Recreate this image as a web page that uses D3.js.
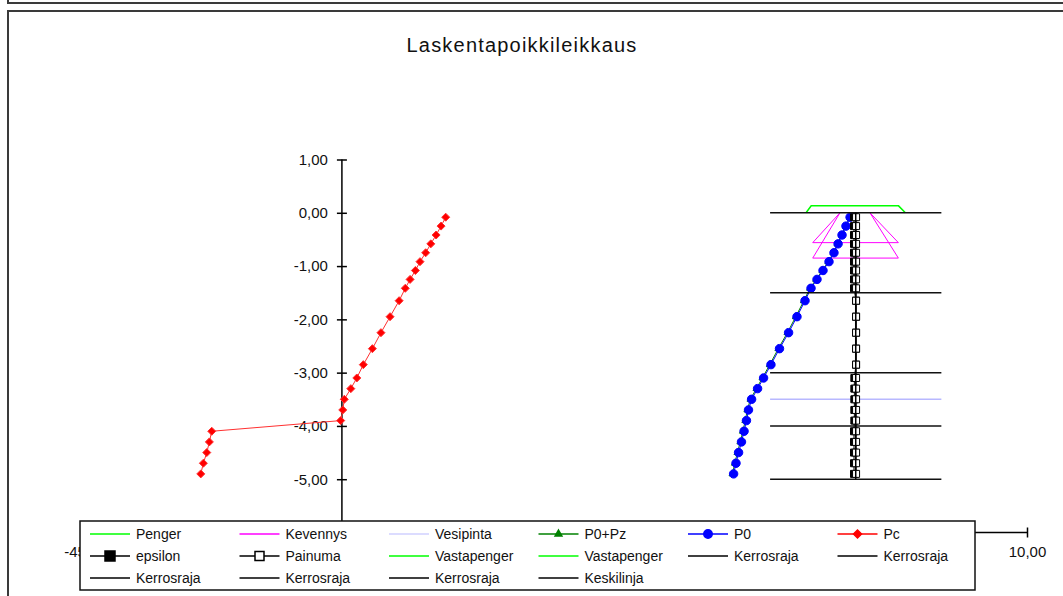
<!DOCTYPE html>
<html><head><meta charset="utf-8">
<script src="https://cdn.jsdelivr.net/npm/d3@7"></script>
<style>body{margin:0;background:#fff}svg{display:block;font-family:Arial,"Liberation Sans",sans-serif}</style>
</head><body><svg id="c" width="1063" height="596"></svg>
<script>
// ---- data ----
const depths = [-0.083,-0.25,-0.417,-0.583,-0.75,-0.917,-1.083,-1.25,-1.417,
  -1.65,-1.95,-2.25,-2.55,-2.85,-3.1,-3.3,-3.5,-3.7,-3.9,-4.1,-4.3,-4.5,-4.7,-4.9];
const p0Values = [-0.33,-0.57,-0.80,-1.03,-1.27,-1.56,-1.91,-2.26,-2.61,
  -2.96,-3.43,-3.92,-4.45,-4.95,-5.38,-5.73,-6.08,-6.26,-6.38,-6.52,-6.67,-6.84,-6.99,-7.13];
const p0pzValues = [-0.34,-0.59,-0.82,-1.06,-1.30,-1.60,-1.95,-2.31,-2.67,
  -3.03,-3.50,-3.99,-4.52,-5.02,-5.45,-5.80,-6.15,-6.33,-6.45,-6.59,-6.74,-6.91,-7.06,-7.20];
const pcValues = [-23.94,-24.21,-24.50,-24.81,-25.11,-25.44,-25.71,-26.02,-26.30,
  -26.66,-27.19,-27.72,-28.22,-28.75,-29.13,-29.48,-29.86,-29.95,-30.07,
  -37.60,-37.74,-37.89,-38.09,-38.24];
const epsilonValues = [-0.10,-0.10,-0.10,-0.10,-0.10,-0.10,-0.10,-0.10,-0.10,
  0.02,0.02,0.02,0.02,0.02,-0.08,-0.08,-0.08,-0.08,-0.08,-0.10,-0.10,-0.10,-0.10,-0.10];
const painumaValues = [0.02,0.02,0.02,0.02,0.02,0.02,0.02,0.02,0.02,
  0.02,0.02,0.02,0.02,0.02,0.02,0.02,0.02,0.02,0.02,0.02,0.02,0.02,0.02,0.02];
const pengerX = [-2.9,-2.6,2.5,2.9];
const pengerY = [0,0.13,0.13,0];
const kevennysX = [-0.92,-2.51,2.49,0.83];
const kevennysY1 = [0,-0.56,-0.56,0];
const kevennysY2 = [0,-0.85,-0.85,0];
const vesipintaX = [-5,5];
const vesipintaLevel = -3.5;
const kerrosrajaX = [-5,5];
const kerrosrajaLevels = [0,-1.5,-3,-4,-5];
const keskilinjaX = [0,0];
const keskilinjaY = [0,-5];
const vastapenger1 = [];
const vastapenger2 = [];
const yTicks = [1,0,-1,-2,-3,-4,-5];
const xTicks = [-45,-40,-35,-30,-25,-20,-15,-10,-5,0,5,10];
const xTickLabelsShown = [-45,10]; // the others sit under the legend box
const legendNames = ["Penger","Kevennys","Vesipinta","P0+Pz","P0","Pc",
  "epsilon","Painuma","Vastapenger","Vastapenger","Kerrosraja","Kerrosraja",
  "Kerrosraja","Kerrosraja","Kerrosraja","Keskilinja"];
const title = "Laskentapoikkileikkaus";

// ---- chart ----
const svg = d3.select("#c");
const x = d3.scaleLinear().domain([-45,10]).range([85,1027]);
const y = d3.scaleLinear().domain([-6,1]).range([532.5,159.5]);
const fmt = v => v.toFixed(2).replace(".",",");
const line = d3.line().x(d=>x(d[0])).y(d=>y(d[1]));
const zip = (a,b) => a.map((v,i)=>[v,b[i]]);

// frame
svg.append("path").attr("d","M8,-5V3H1070").attr("fill","none").attr("stroke","#3a3a3a").attr("stroke-width",2);
svg.append("path").attr("d","M8,600V11H1070").attr("fill","none").attr("stroke","#3a3a3a").attr("stroke-width",2);

svg.append("text").attr("x",522).attr("y",52).attr("text-anchor","middle")
  .attr("font-size",20).attr("letter-spacing",1.2).attr("fill","#111").text(title);

// axes
const ya = svg.append("g").attr("transform",`translate(${x(-30)},0)`)
  .call(d3.axisLeft(y).tickValues(yTicks).tickSizeInner(5).tickSizeOuter(0).tickPadding(9).tickFormat(fmt));
ya.select(".domain").attr("stroke","#000").attr("stroke-width",1.5).attr("d",`M0,${y(1)}V${y(-6)}`);
ya.selectAll(".tick line").attr("x1",5).attr("stroke-width",1.5);
ya.selectAll(".tick text").attr("font-size",15).attr("font-family","Arial,Liberation Sans,sans-serif").attr("fill","#111");

const xa = svg.append("g").attr("transform",`translate(0,${y(-6)})`)
  .call(d3.axisBottom(x).tickValues(xTicks).tickSizeInner(5).tickSizeOuter(0).tickPadding(9)
    .tickFormat(v => xTickLabelsShown.includes(v) ? fmt(v) : ""));
xa.select(".domain").attr("stroke","#000").attr("stroke-width",1.5).attr("d",`M${x(-45)},0H${x(10)}`);
xa.selectAll(".tick line").attr("y1",-5).attr("stroke-width",1.5);
xa.selectAll(".tick text").attr("font-size",15).attr("font-family","Arial,Liberation Sans,sans-serif").attr("fill","#111");

const plot = svg.append("g");
// Penger
plot.append("path").attr("d",line(zip(pengerX,pengerY))).attr("fill","none").attr("stroke","#00ff00").attr("stroke-width",1.5);
// Kevennys
[kevennysY1,kevennysY2].forEach(ky=>{
  plot.append("path").attr("d",line(zip(kevennysX,ky))).attr("fill","none").attr("stroke","#ff00ff").attr("stroke-width",1);
});
// Vesipinta
plot.append("path").attr("d",line(vesipintaX.map(v=>[v,vesipintaLevel]))).attr("fill","none").attr("stroke","#b8b8ff").attr("stroke-width",1.5);

const sym = (type,size) => d3.symbol().type(type).size(size)();
function series(vals, color, marker, mfill){
  const pts = zip(vals, depths);
  plot.append("path").attr("d",line(pts)).attr("fill","none").attr("stroke",color).attr("stroke-width",1);
  plot.append("g").selectAll("path").data(pts).join("path")
    .attr("transform",d=>`translate(${x(d[0])},${y(d[1])})`)
    .attr("d",marker).attr("fill",mfill).attr("stroke",color).attr("stroke-width",1);
}
const tri = sym(d3.symbolTriangle,20);
const circ = sym(d3.symbolCircle,56);
const diam = "M0,-4L4,0L0,4L-4,0Z";
const sq = "M-3.5,-3.5H3.5V3.5H-3.5Z";
series(p0pzValues,"#008000",tri,"#008000");
series(p0Values,"#0000ff",circ,"#0000ff");
series(pcValues,"#ff3030",diam,"#ff0000");
series(epsilonValues,"#000",sq,"#000");
series(painumaValues,"#000",sq,"#fff");
// Kerrosraja
kerrosrajaLevels.forEach(l=>{
  plot.append("path").attr("d",line(kerrosrajaX.map(v=>[v,l]))).attr("fill","none").attr("stroke","#111").attr("stroke-width",1.5);
});
// Keskilinja
plot.append("path").attr("d",line(zip(keskilinjaX,keskilinjaY))).attr("fill","none").attr("stroke","#000").attr("stroke-width",1.5);

// legend
const lg = svg.append("g");
lg.append("rect").attr("x",80).attr("y",521).attr("width",895).attr("height",69)
  .attr("fill","#fff").attr("stroke","#111").attr("stroke-width",1.5);
const styles = {
  "Penger":{c:"#00ff00"},"Kevennys":{c:"#ff00ff"},"Vesipinta":{c:"#d0d0ff"},
  "P0+Pz":{c:"#008000",m:tri,f:"#008000"},"P0":{c:"#0000ff",m:circ,f:"#0000ff"},
  "Pc":{c:"#ff0000",m:diam,f:"#ff0000"},"epsilon":{c:"#000",m:"M-5,-5H5V5H-5Z",f:"#000"},
  "Painuma":{c:"#000",m:"M-4.5,-4.5H4.5V4.5H-4.5Z",f:"#fff"},"Vastapenger":{c:"#00ff00"},
  "Kerrosraja":{c:"#000"},"Keskilinja":{c:"#000"}
};
legendNames.forEach((n,i)=>{
  const col=i%6,row=Math.floor(i/6);
  const lx=90+col*149.5, ly=534+row*22;
  const s=styles[n];
  const g=lg.append("g").attr("transform",`translate(${lx},${ly})`);
  g.append("line").attr("x1",0).attr("x2",40).attr("stroke",s.c).attr("stroke-width",1.5);
  if(s.m) g.append("path").attr("transform","translate(20,0)").attr("d",s.m).attr("fill",s.f).attr("stroke",s.c).attr("stroke-width",1.5);
  g.append("text").attr("x",46).attr("y",5).attr("font-size",14).attr("fill","#111").text(n);
});
</script></body></html>
